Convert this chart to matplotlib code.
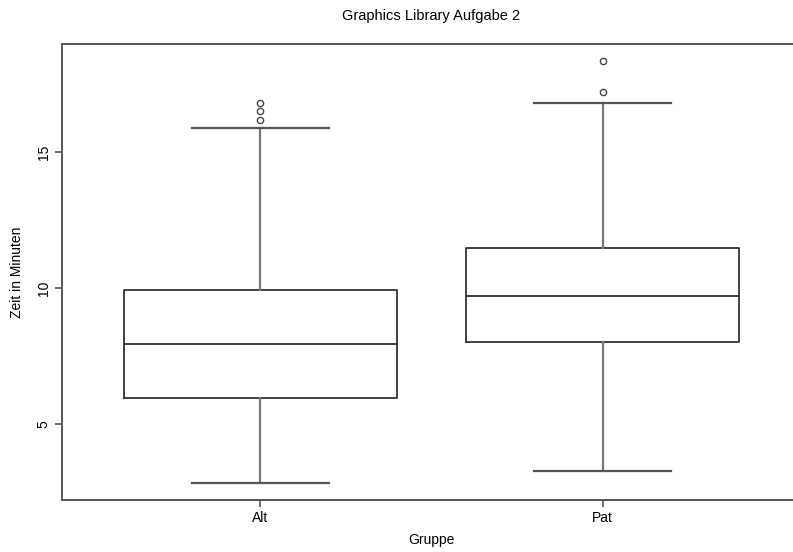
import matplotlib
matplotlib.use("Agg")
import matplotlib.pyplot as plt

# Werte
gruppen = ["Alt", "Pat"]
whisker_unten = [2.84, 3.27]
q1 = [5.96, 8.01]
median = [7.93, 9.69]
q3 = [9.93, 11.46]
whisker_oben = [15.89, 16.79]
ausreisser = [[16.18, 16.51, 16.81], [17.19, 18.35]]

plt.rcParams["font.family"] = ["Liberation Sans", "DejaVu Sans"]

fig = plt.figure(figsize=(7.93, 5.52), dpi=100)
ax = fig.add_axes([62 / 793, 52 / 552, 739 / 793, 456 / 552])

stats = []
for i, name in enumerate(gruppen):
    stats.append({
        "label": name,
        "whislo": whisker_unten[i],
        "q1": q1[i],
        "med": median[i],
        "q3": q3[i],
        "whishi": whisker_oben[i],
        "fliers": ausreisser[i],
    })

ax.bxp(
    stats,
    positions=[1, 2],
    widths=0.8,
    boxprops=dict(color="#333333", linewidth=1.3),
    medianprops=dict(color="#333333", linewidth=1.3),
    whiskerprops=dict(color="#777777", linewidth=1.6),
    capprops=dict(color="#555555", linewidth=1.6),
    flierprops=dict(marker="o", markersize=4.5, markerfacecolor="white",
                    markeredgecolor="#444444", markeredgewidth=1.0),
)

ax.set_xlim(0.42, 2.58)
ax.set_ylim(2.2, 18.97)
ax.set_yticks([5, 10, 15])
ax.set_yticklabels(["5", "10", "15"], rotation=90, va="center")
ax.set_xticks([1, 2])
ax.set_xticklabels(gruppen)

for side in ["left", "bottom", "top"]:
    ax.spines[side].set_color("#555555")
    ax.spines[side].set_linewidth(1.4)
ax.spines["right"].set_visible(False)

ax.tick_params(axis="both", length=5, width=1.2, color="#555555",
               labelsize=10, pad=3)

ax.set_xlabel("Gruppe", fontsize=10, labelpad=6)
ax.set_ylabel("Zeit in Minuten", fontsize=10, labelpad=9)
ax.set_title("Graphics Library Aufgabe 2", fontsize=10.5, pad=17)

fig.savefig("out.png", dpi=100)
